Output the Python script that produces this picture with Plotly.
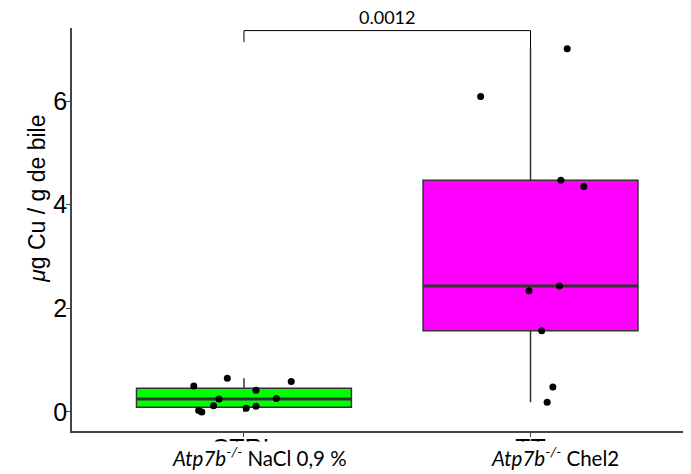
import numpy as np
import plotly.graph_objects as go

# Données
groups = ['CTRL', 'TT']
group_labels = ['<i>Atp7b<sup>-/-</sup></i> NaCl 0,9 %', '<i>Atp7b<sup>-/-</sup></i> Chel2']
colors = ['#00FF00', '#FF00FF']

ctrl_vals = [0.50, 0.65, 0.59, 0.42, 0.25, 0.26, 0.12, 0.11, 0.07, 0.03, 0.00]
ctrl_jitter = [-0.175, -0.058, 0.165, 0.042, -0.087, 0.113, -0.106, 0.042, 0.008, -0.158, -0.147]

tt_vals = [7.01, 6.09, 4.47, 4.35, 2.43, 2.34, 1.57, 0.48, 0.19]
tt_jitter = [0.128, -0.174, 0.106, 0.186, 0.101, -0.005, 0.039, 0.078, 0.058]

p_value = '0.0012'

values = [ctrl_vals, tt_vals]
jitters = [ctrl_jitter, tt_jitter]
box_w = 0.75

fig = go.Figure()

for i, (vals, fill) in enumerate(zip(values, colors)):
    fig.add_trace(go.Box(
        x=[i] * len(vals), y=vals,
        width=box_w,
        boxpoints=False,
        quartilemethod='inclusive',
        fillcolor=fill,
        line=dict(color='#333333', width=1.5),
        whiskerwidth=0,
        showlegend=False,
    ))
    # médiane plus épaisse (comme ggplot)
    med = float(np.median(vals))
    fig.add_trace(go.Scatter(
        x=[i - box_w / 2, i + box_w / 2], y=[med, med],
        mode='lines', line=dict(color='#333333', width=3),
        showlegend=False, hoverinfo='skip',
    ))

for i, (vals, jit) in enumerate(zip(values, jitters)):
    fig.add_trace(go.Scatter(
        x=np.array(jit) + i, y=vals,
        mode='markers',
        marker=dict(color='black', size=7),
        showlegend=False,
    ))

# Crochet de significativité
y_top = max(max(v) for v in values)
y_br = y_top + 0.35
fig.add_trace(go.Scatter(
    x=[0, 0, 1, 1],
    y=[y_br - 0.22, y_br, y_br, y_top - 0.01],
    mode='lines',
    line=dict(color='black', width=1),
    showlegend=False,
    hoverinfo='skip',
))
fig.add_annotation(
    x=0.5, y=y_br, xref='x', yref='y',
    text=p_value, showarrow=False, yanchor='bottom', yshift=1,
    font=dict(family='Lato', size=18, color='black'),
)

# Étiquettes des groupes (recouvrent les noms d'origine)
shifts = [16, 24]
for i, (lab, sh) in enumerate(zip(group_labels, shifts)):
    fig.add_annotation(
        x=i, y=0, xref='x', yref='paper',
        text=lab, showarrow=False,
        yanchor='middle', yshift=-25, xshift=sh,
        bgcolor='white', borderpad=1,
        font=dict(family='Lato', size=20.5, color='black'),
    )

# Titre de l'axe y
fig.add_annotation(
    x=0, y=0.576, xref='paper', yref='paper',
    text='<i>μ</i>g Cu / g de bile', showarrow=False,
    textangle=-90, xanchor='center', yanchor='middle', xshift=-35,
    font=dict(family='Liberation Sans', size=23, color='black'),
)

# la page ajoute 8 px de marge autour de la figure
fig.update_layout(
    width=683, height=466,
    margin=dict(l=64, r=0, t=20, b=43),
    plot_bgcolor='white',
    paper_bgcolor='white',
    font=dict(family='Liberation Sans', color='#333333'),
    xaxis=dict(
        range=[-0.6, 1.56],
        tickvals=[0, 1], ticktext=groups,
        showline=True, linecolor='#444444', linewidth=1.5,
        ticks='outside', ticklen=4, tickcolor='#444444',
        tickfont=dict(size=25, color='black'),
        ticklabelstandoff=-10,
        showgrid=False, zeroline=False, automargin=False,
    ),
    yaxis=dict(
        range=[-0.367, 7.41],
        tickvals=[0, 2, 4, 6],
        showline=True, linecolor='#444444', linewidth=1.5,
        ticks='outside', ticklen=4, tickcolor='#444444',
        tickfont=dict(size=25, color='black'),
        ticklabelstandoff=-6,
        showgrid=False, zeroline=False, automargin=False,
    ),
)

fig.write_html('out.html')
